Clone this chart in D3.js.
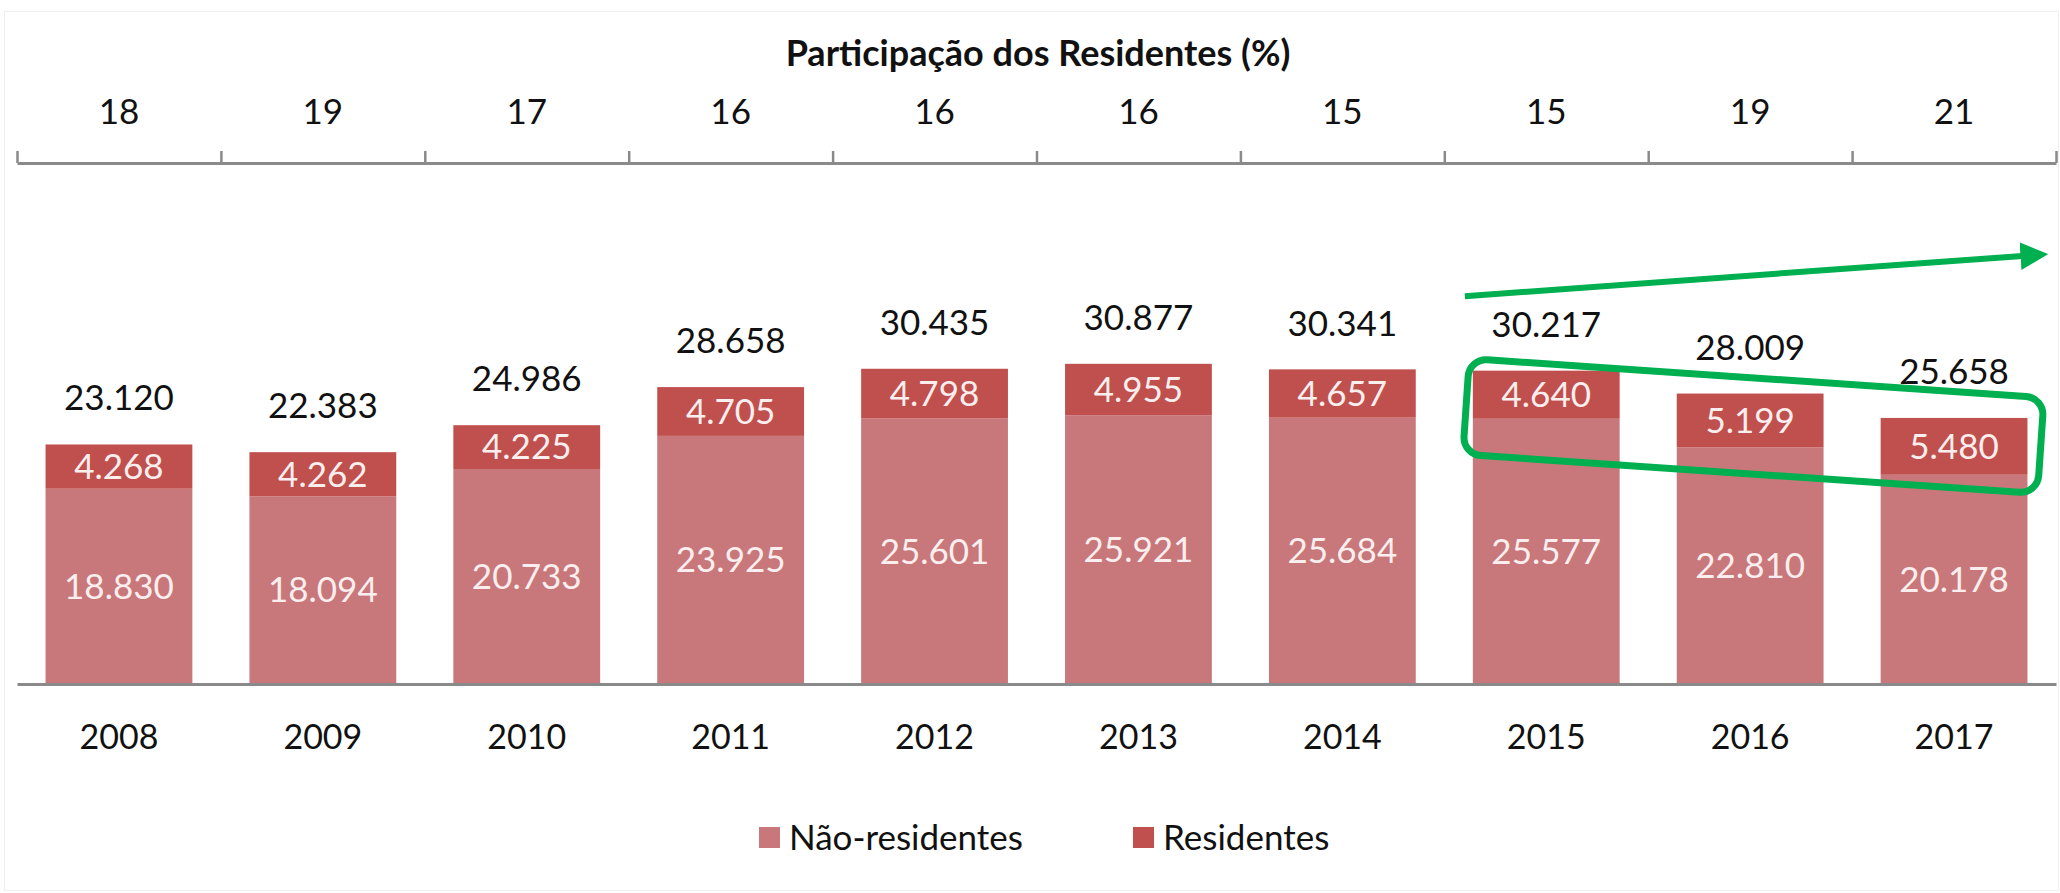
<!DOCTYPE html>
<html>
<head>
<meta charset="utf-8">
<script src="https://cdn.jsdelivr.net/npm/d3@7"></script>
<style>
  html, body { margin: 0; padding: 0; background: #fff; }
  svg { display: block; font-family: Lato, "Open Sans", sans-serif; }
</style>
</head>
<body>
<svg id="chart" width="2060" height="893"></svg>
<script>
const years = ["2008","2009","2010","2011","2012","2013","2014","2015","2016","2017"];
const naoResidentes = [18830, 18094, 20733, 23925, 25601, 25921, 25684, 25577, 22810, 20178];
const residentes = [4268, 4262, 4225, 4705, 4798, 4955, 4657, 4640, 5199, 5480];
const totais = [23120, 22383, 24986, 28658, 30435, 30877, 30341, 30217, 28009, 25658];
const participacao = [18, 19, 17, 16, 16, 16, 15, 15, 19, 21];
const seriesNames = ["Não-residentes", "Residentes"];

const colors = { "Não-residentes": "#c8787a", "Residentes": "#c0504d" };
const fmt = v => d3.format(",")(v).replace(/,/g, ".");
const fs = 35;

const svg = d3.select("#chart");
const W = 2060, H = 893;
const baseY = 684;

// faint frame
svg.append("rect")
  .attr("x", 4.5).attr("y", 11.5)
  .attr("width", W - 6).attr("height", H - 14)
  .attr("fill", "none").attr("stroke", "#efefef");

const x = d3.scaleBand()
  .domain(years)
  .range([17, 2056])
  .paddingInner(0.28)
  .paddingOuter(0.14);

const y = d3.scaleLinear()
  .domain([0, 50000])
  .range([baseY, baseY - 518.5]);

const rows = years.map((yr, i) => ({
  year: yr,
  "Não-residentes": naoResidentes[i],
  "Residentes": residentes[i],
  total: totais[i],
  pct: participacao[i]
}));

const stack = d3.stack().keys(seriesNames)(rows);

// bars
const layers = svg.append("g").selectAll("g")
  .data(stack)
  .join("g")
  .attr("fill", d => colors[d.key]);

layers.selectAll("rect")
  .data(d => d)
  .join("rect")
  .attr("x", d => x(d.data.year))
  .attr("width", x.bandwidth())
  .attr("y", d => y(d[1]))
  .attr("height", d => y(d[0]) - y(d[1]));

// segment labels
layers.selectAll("text")
  .data(d => d)
  .join("text")
  .attr("x", d => x(d.data.year) + x.bandwidth() / 2)
  .attr("y", d => (y(d[0]) + y(d[1])) / 2)
  .attr("dy", "0.35em")
  .attr("text-anchor", "middle")
  .attr("fill", "#fbeeee")
  .attr("font-size", fs)
  .text(d => fmt(d[1] - d[0]));

// totals
svg.append("g").selectAll("text")
  .data(rows)
  .join("text")
  .attr("x", d => x(d.year) + x.bandwidth() / 2)
  .attr("y", d => y(d.total) - 46)
  .attr("dy", "0.35em")
  .attr("text-anchor", "middle")
  .attr("fill", "#111")
  .attr("font-size", fs)
  .text(d => fmt(d.total));

// bottom axis
const xAxis = svg.append("g")
  .attr("transform", `translate(0,${baseY})`)
  .call(d3.axisBottom(x).tickSize(0).tickPadding(41));
xAxis.select(".domain").attr("stroke", "#8a8a8a").attr("stroke-width", 3);
xAxis.selectAll("text").attr("font-size", 34).attr("fill", "#111")
  .attr("font-family", "Lato, sans-serif");

// top axis: participation (%)
const topY = 163;
const edges = d3.scaleLinear().domain([0, years.length]).range(x.range());
const topAxis = svg.append("g")
  .attr("transform", `translate(0,${topY})`)
  .call(d3.axisTop(edges).tickValues(d3.range(0, years.length + 1)).tickSize(12).tickSizeOuter(0).tickFormat(""));
topAxis.select(".domain").attr("stroke", "#8a8a8a").attr("stroke-width", 3);
topAxis.selectAll(".tick line").attr("stroke", "#8a8a8a").attr("stroke-width", 2.5);

svg.append("g").selectAll("text")
  .data(rows)
  .join("text")
  .attr("x", d => x(d.year) + x.bandwidth() / 2)
  .attr("y", 112)
  .attr("dy", "0.35em")
  .attr("text-anchor", "middle")
  .attr("fill", "#111")
  .attr("font-size", fs)
  .text(d => d.pct);

svg.append("text")
  .attr("x", 1038)
  .attr("y", 53)
  .attr("dy", "0.35em")
  .attr("text-anchor", "middle")
  .attr("font-weight", "bold")
  .attr("font-size", 36)
  .attr("fill", "#111")
  .text("Participação dos Residentes (%)");

// legend
const legendItems = [
  { key: "Não-residentes", x: 759 },
  { key: "Residentes", x: 1133 }
];
const legend = svg.append("g").selectAll("g")
  .data(legendItems)
  .join("g")
  .attr("transform", d => `translate(${d.x},838)`);
legend.append("rect")
  .attr("x", 0).attr("y", -11)
  .attr("width", 21).attr("height", 21)
  .attr("fill", d => colors[d.key]);
legend.append("text")
  .attr("x", 30)
  .attr("dy", "0.35em")
  .attr("font-size", 35)
  .attr("fill", "#111")
  .text(d => d.key);

// green annotations
const green = "#00b050";
const ann = svg.append("g");
const defs = svg.append("defs");
defs.append("marker")
  .attr("id", "arrow")
  .attr("viewBox", "0 0 10 10")
  .attr("refX", 2).attr("refY", 5)
  .attr("markerWidth", 4.6).attr("markerHeight", 4.6)
  .attr("markerUnits", "strokeWidth")
  .attr("orient", "auto")
  .append("path")
  .attr("d", "M0,0 L10,5 L0,10 Z")
  .attr("fill", green);

const x2015 = x("2015");
ann.append("line")
  .attr("x1", x2015 - 8).attr("y1", y(37400))
  .attr("x2", x.range()[1] - 30).attr("y2", y(41300))
  .attr("stroke", green)
  .attr("stroke-width", 6)
  .attr("marker-end", "url(#arrow)");

const rw = 576, rh = 96;
const cx = (x2015 - 8 + x.range()[1] - 14) / 2;
const cy = 426;
ann.append("rect")
  .attr("x", -rw / 2).attr("y", -rh / 2)
  .attr("width", rw).attr("height", rh)
  .attr("rx", 18).attr("ry", 18)
  .attr("fill", "none")
  .attr("stroke", green)
  .attr("stroke-width", 7)
  .attr("transform", `translate(${cx},${cy}) rotate(3.9)`);
</script>
</body>
</html>
